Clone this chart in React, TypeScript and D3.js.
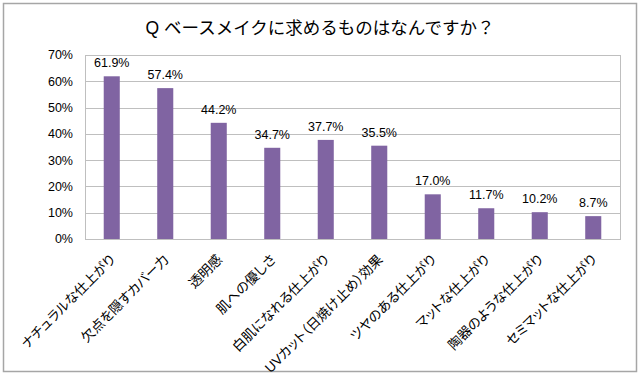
import { useEffect, useRef } from 'react'
import * as d3 from 'd3'

const categories = [
  'ナチュラルな仕上がり',
  '欠点を隠すカバー力',
  '透明感',
  '肌への優しさ',
  '白肌になれる仕上がり',
  'UVカット（日焼け止め）効果',
  'ツヤのある仕上がり',
  'マットな仕上がり',
  '陶器のような仕上がり',
  'セミマットな仕上がり',
]
const values = [61.9, 57.4, 44.2, 34.7, 37.7, 35.5, 17.0, 11.7, 10.2, 8.7]
const yTicks = [0, 10, 20, 30, 40, 50, 60, 70]
const title = 'Q ベースメイクに求めるものはなんですか？'

const W = 640
const H = 375
const font = '"Liberation Sans", Arial, "Noto Sans CJK JP", sans-serif'

export default function App() {
  const svgRef = useRef<SVGSVGElement>(null)

  useEffect(() => {
    if (!svgRef.current) return
    const svg = d3.select(svgRef.current)
    svg.selectAll('*').remove()

    const plot = { left: 85, right: 620, top: 55, bottom: 239 }

    // outer frame
    svg.append('rect')
      .attr('x', 3.5).attr('y', 3.5)
      .attr('width', W - 7).attr('height', H - 7)
      .attr('fill', '#fff')
      .attr('stroke', '#a6a6a6')
      .attr('stroke-width', 1.5)

    svg.append('text')
      .attr('x', W / 2)
      .attr('y', 34)
      .attr('text-anchor', 'middle')
      .attr('font-size', 17.5)
      .attr('font-family', font)
      .attr('fill', '#000')
      .text(title)

    const x = d3.scaleBand<string>()
      .domain(categories)
      .range([plot.left, plot.right])
      .paddingInner(0.7)
      .paddingOuter(0.35)

    const y = d3.scaleLinear()
      .domain([0, 70])
      .range([plot.bottom, plot.top])

    // gridlines
    svg.append('g')
      .selectAll('line')
      .data(yTicks)
      .join('line')
      .attr('x1', plot.left)
      .attr('x2', plot.right)
      .attr('y1', d => Math.round(y(d)) + 0.5)
      .attr('y2', d => Math.round(y(d)) + 0.5)
      .attr('stroke', '#bfbfbf')
      .attr('stroke-width', 1)

    // plot frame
    svg.append('rect')
      .attr('x', plot.left + 0.5)
      .attr('y', Math.round(y(70)) + 0.5)
      .attr('width', plot.right - plot.left)
      .attr('height', Math.round(y(0)) - Math.round(y(70)))
      .attr('fill', 'none')
      .attr('stroke', '#bfbfbf')

    // y labels
    svg.append('g')
      .selectAll('text')
      .data(yTicks)
      .join('text')
      .attr('x', 73)
      .attr('y', d => y(d))
      .attr('dy', '0.35em')
      .attr('text-anchor', 'end')
      .attr('font-size', 12.5)
      .attr('font-family', font)
      .text(d => `${d}%`)

    // bars
    svg.append('g')
      .selectAll('rect')
      .data(values)
      .join('rect')
      .attr('x', (_, i) => x(categories[i])!)
      .attr('y', d => y(d))
      .attr('width', x.bandwidth())
      .attr('height', d => y(0) - y(d))
      .attr('fill', '#8064a2')

    // data labels
    svg.append('g')
      .selectAll('text')
      .data(values)
      .join('text')
      .attr('x', (_, i) => x(categories[i])! + x.bandwidth() / 2)
      .attr('y', d => y(d) - 9)
      .attr('text-anchor', 'middle')
      .attr('font-size', 12.5)
      .attr('font-family', font)
      .text(d => `${d.toFixed(1)}%`)

    // category labels (proportional kana, like the original)
    svg.append('g')
      .selectAll('text')
      .data(categories)
      .join('text')
      .attr('transform', d => `translate(${x(d)! + x.bandwidth() / 2 + 1},${plot.bottom + 18}) rotate(-45)`)
      .attr('text-anchor', 'end')
      .attr('dy', '0.35em')
      .attr('font-size', 13.5)
      .attr('font-family', font)
      .style('font-feature-settings', '"palt"')
      .text(d => d)
  }, [])

  return <svg ref={svgRef} width={W} height={H} style={{ position: 'absolute', left: 0, top: 0 }} />
}
